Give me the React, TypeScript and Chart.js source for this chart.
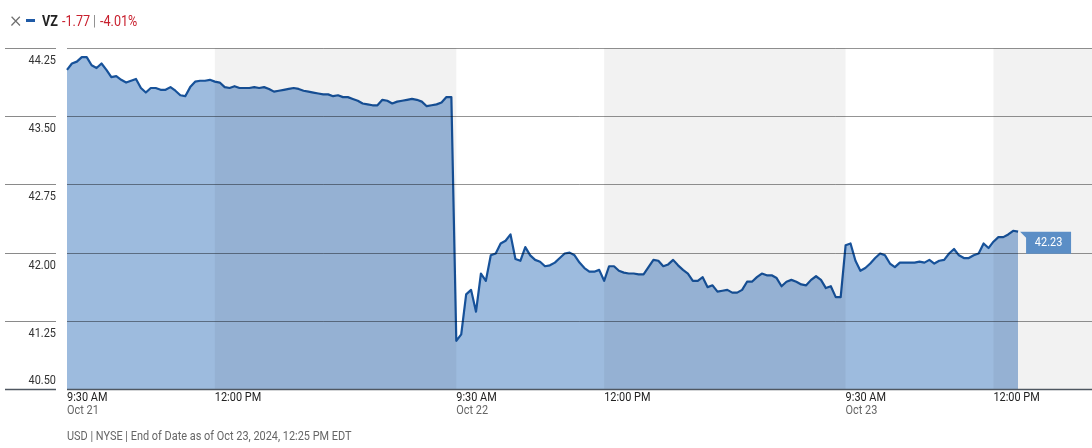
import { useEffect, useRef } from 'react'
import { Chart, registerables } from 'chart.js'

Chart.register(...registerables)

const FONT = "Roboto, 'Liberation Sans', sans-serif"
// the original face is a condensed grotesque; squeeze Roboto horizontally
const SQUEEZE = 0.84

// 5-minute closes, one array per session
const oct21Prices = [
  44.01, 44.08, 44.1, 44.15, 44.15, 44.06, 44.03, 44.08, 44.01, 43.93,
  43.94, 43.9, 43.87, 43.89, 43.91, 43.81, 43.76, 43.81, 43.81, 43.79,
  43.79, 43.82, 43.78, 43.73, 43.72, 43.82, 43.88, 43.89, 43.89, 43.9,
  43.88, 43.87, 43.82, 43.81, 43.83, 43.81, 43.81, 43.81, 43.82, 43.81,
  43.82, 43.8, 43.77, 43.78, 43.79, 43.8, 43.81, 43.8, 43.78, 43.77,
  43.76, 43.75, 43.74, 43.74, 43.72, 43.73, 43.71, 43.71, 43.69, 43.67,
  43.64, 43.63, 43.62, 43.62, 43.68, 43.67, 43.64, 43.66, 43.67, 43.68,
  43.69, 43.68, 43.66, 43.61, 43.62, 43.63, 43.65, 43.71, 43.71,
]
const oct22Prices = [
  41.03, 41.1, 41.54, 41.59, 41.35, 41.77, 41.69, 41.97, 41.99, 42.1,
  42.13, 42.2, 41.93, 41.91, 42.06, 41.97, 41.92, 41.9, 41.85, 41.86,
  41.89, 41.94, 41.99, 42.0, 41.97, 41.89, 41.83, 41.79, 41.79, 41.81,
  41.69, 41.85, 41.85, 41.8, 41.78, 41.77, 41.77, 41.76, 41.76, 41.84,
  41.92, 41.91, 41.85, 41.87, 41.92, 41.86, 41.81, 41.77, 41.69, 41.69,
  41.73, 41.62, 41.64, 41.57, 41.58, 41.59, 41.56, 41.56, 41.59, 41.68,
  41.68, 41.73, 41.77, 41.75, 41.75, 41.72, 41.63, 41.68, 41.7, 41.68,
  41.65, 41.64, 41.7, 41.74, 41.7, 41.61, 41.63, 41.51, 41.51,
]
const oct23Prices = [
  42.08, 42.1, 41.91, 41.8, 41.83, 41.88, 41.94, 41.99, 41.97, 41.88,
  41.84, 41.89, 41.89, 41.89, 41.89, 41.9, 41.89, 41.92, 41.88, 41.91,
  41.92, 41.99, 42.04, 41.97, 41.94, 41.94, 41.97, 41.99, 42.1, 42.05,
  42.12, 42.17, 42.17, 42.2, 42.24, 42.23,
]

const sessionDays = ['Oct 21', 'Oct 22', 'Oct 23']
// slots per session on the axis (last session runs on past the last print)
const sessionSlots = [79, 79, 51]
const yTicks = [40.5, 41.25, 42.0, 42.75, 43.5, 44.25]
const tickTimes = ['9:30', '12:00']
const tickTimeText = ['9:30 AM', '12:00 PM']
const lastPrice = '42.23'

const slotTime = (i: number) => {
  const mins = 9 * 60 + 30 + i * 5
  return `${Math.floor(mins / 60)}:${String(mins % 60).padStart(2, '0')}`
}

const labels = sessionDays.flatMap((day, d) =>
  Array.from({ length: sessionSlots[d] }, (_, i) => `${day} ${slotTime(i)}`),
)
const prices = [...oct21Prices, ...oct22Prices, ...oct23Prices]

const narrowText = (ctx: CanvasRenderingContext2D, text: string, x: number, y: number, align: CanvasTextAlign) => {
  ctx.save()
  ctx.translate(x, y)
  ctx.scale(SQUEEZE, 1)
  ctx.textAlign = align
  ctx.fillText(text, 0, 0)
  ctx.restore()
}

const overlayPlugin = {
  id: 'overlay',
  afterDatasetsDraw(chart: any) {
    const { ctx, chartArea, scales } = chart
    const { left, right, top, bottom } = chartArea
    const x = scales.x
    const y = scales.y
    ctx.save()

    // shaded midday-to-open bands
    ctx.fillStyle = 'rgba(0,0,0,0.05)'
    sessionDays.forEach((day, d) => {
      const x0 = x.getPixelForValue(labels.indexOf(`${day} 12:00`))
      const next = sessionDays[d + 1]
      const x1 = next ? x.getPixelForValue(labels.indexOf(`${next} 9:30`)) : right
      ctx.fillRect(x0, top, x1 - x0, bottom - top)
    })

    // horizontal grid + y labels
    ctx.font = `13px ${FONT}`
    ctx.textBaseline = 'middle'
    yTicks.forEach((v, i) => {
      const py = Math.round(y.getPixelForValue(v)) + 0.5
      const isBase = i === 0
      ctx.lineWidth = isBase ? 1.5 : 1
      ctx.strokeStyle = isBase ? '#4f5761' : 'rgba(0,0,0,0.42)'
      ctx.beginPath()
      ctx.moveTo(left, py)
      ctx.lineTo(right, py)
      ctx.stroke()
      ctx.strokeStyle = isBase ? '#4f5761' : '#8a8a8a'
      ctx.beginPath()
      ctx.moveTo(5, py)
      ctx.lineTo(56, py)
      ctx.stroke()
      ctx.fillStyle = '#333'
      narrowText(ctx, v.toFixed(2), 56, isBase ? py - 9 : py + 12, 'right')
    })

    // x labels
    sessionDays.forEach((day) => {
      tickTimes.forEach((t, k) => {
        const idx = labels.indexOf(`${day} ${t}`)
        if (idx < 0) return
        const px = x.getPixelForValue(idx)
        ctx.fillStyle = '#222'
        narrowText(ctx, tickTimeText[k], px, bottom + 9, 'left')
        if (k === 0) {
          ctx.fillStyle = '#666'
          narrowText(ctx, day, px, bottom + 22, 'left')
        }
      })
    })

    // last price badge
    const meta = chart.getDatasetMeta(0)
    const last = meta.data[meta.data.length - 1]
    const bx = last.x + 8
    const by = last.y
    const bw = 45
    const bh = 22
    ctx.fillStyle = '#5b8ec6'
    ctx.beginPath()
    ctx.moveTo(bx - 6, by)
    ctx.lineTo(bx + bw, by)
    ctx.lineTo(bx + bw, by + bh)
    ctx.lineTo(bx, by + bh)
    ctx.lineTo(bx, by + 6)
    ctx.closePath()
    ctx.fill()
    ctx.fillStyle = '#fff'
    narrowText(ctx, lastPrice, bx + bw / 2, by + bh / 2 + 0.5, 'center')

    ctx.restore()
  },
}

const squeezed = (left: number, top: number, extra: React.CSSProperties, text: string) => (
  <span
    style={{
      position: 'absolute',
      left,
      top,
      whiteSpace: 'nowrap',
      transform: `scaleX(${SQUEEZE})`,
      transformOrigin: 'left center',
      ...extra,
    }}
  >
    {text}
  </span>
)

export default function App() {
  const canvasRef = useRef<HTMLCanvasElement | null>(null)

  useEffect(() => {
    const ctx = canvasRef.current?.getContext('2d')
    if (!ctx) return
    const chart = new Chart(ctx, {
      type: 'line',
      data: {
        labels,
        datasets: [
          {
            label: 'VZ',
            data: prices,
            borderColor: '#17529a',
            borderWidth: 2.2,
            backgroundColor: 'rgba(60,120,190,0.5)',
            fill: 'start',
            pointRadius: 0,
            tension: 0,
            borderJoinStyle: 'round',
          },
        ],
      },
      options: {
        responsive: false,
        animation: false,
        layout: { padding: { left: 67, top: 48, right: 0, bottom: 59 } },
        plugins: { legend: { display: false }, tooltip: { enabled: false } },
        scales: {
          x: { type: 'category', display: false, offset: false },
          y: { type: 'linear', display: false, min: 40.5, max: 44.25 },
        },
      },
      plugins: [overlayPlugin],
    })
    return () => chart.destroy()
  }, [])

  const head = { fontSize: 15, lineHeight: '20px' }

  return (
    <div style={{ position: 'fixed', left: 0, top: 0, width: 1092, height: 448, background: '#fff', fontFamily: FONT }}>
      <canvas ref={canvasRef} width={1092} height={448} style={{ position: 'absolute', left: 0, top: 0 }} />
      <span style={{ position: 'absolute', left: 10, top: 8, fontSize: 22, lineHeight: '24px', color: '#6f6f6f', fontWeight: 300 }}>×</span>
      <div style={{ position: 'absolute', left: 26, top: 19, width: 9, height: 3, background: '#1f5aa6' }} />
      {squeezed(42, 11, { ...head, color: '#222', fontWeight: 'bold' }, 'VZ')}
      {squeezed(62, 11, { ...head, color: '#c8202e' }, '-1.77')}
      {squeezed(93, 11, { ...head, color: '#888' }, '|')}
      {squeezed(100, 11, { ...head, color: '#c8202e' }, '-4.01%')}
      {squeezed(67, 428, { fontSize: 13, lineHeight: '16px', color: '#666' }, 'USD | NYSE | End of Date as of Oct 23, 2024, 12:25 PM EDT')}
    </div>
  )
}
